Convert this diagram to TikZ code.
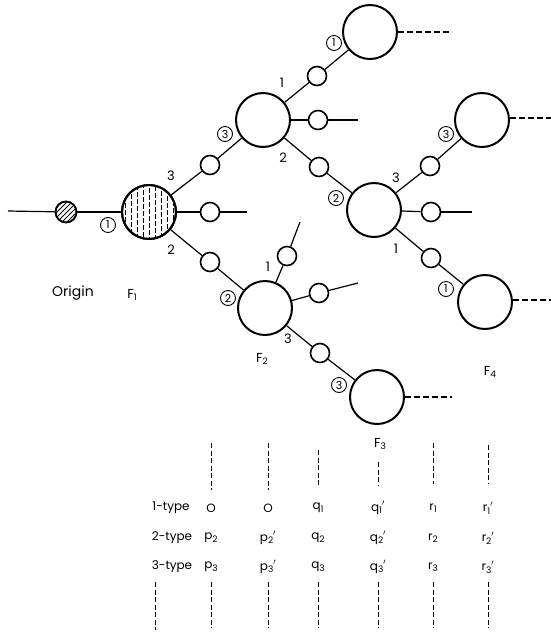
\documentclass[tikz,border=0pt]{standalone}
\usepackage{fontspec}
\setmainfont{Poppins}
\usetikzlibrary{calc}
\newcommand{\sbs}[1]{\raisebox{-2.5pt}{\fontsize{9}{9}\selectfont #1}}
\newcommand{\pr}{\raisebox{1pt}{$^\prime$}}
\begin{document}
\begin{tikzpicture}[x=1pt,y=-1pt,
  big/.style={circle,draw,line width=2pt,minimum size=54pt,inner sep=0pt},
  small/.style={circle,draw,line width=1.6pt,minimum size=19pt,inner sep=0pt},
  edge/.style={line width=1.2pt},
  cnum/.style={circle,draw,line width=0.9pt,inner sep=0pt,minimum size=15pt,font=\fontsize{11}{11}\selectfont},
  lab/.style={font=\fontsize{13}{13}\selectfont,inner sep=0pt},
  tlab/.style={font=\fontsize{12}{12}\selectfont,inner sep=0pt},
  dline/.style={line width=1.3pt,dash pattern=on 6pt off 3pt},
  vline/.style={line width=1pt,dash pattern=on 5pt off 2.5pt}]
\useasboundingbox (0,0) rectangle (551,633);
% origin
\coordinate (o0) at (8,211);
\node[small,minimum size=21pt] (org) at (66,212) {};
\begin{scope}
\clip (66,212) circle (10pt);
\foreach \k in {-24,-19,...,24} \draw[line width=1pt] (66+\k-12,224) -- (66+\k+12,200);
\end{scope}
\node[small,minimum size=21pt] at (66,212) {};
% main big circles
\node[big] (F1) at (149,212) {};
\begin{scope}
\clip (149,212) circle (27pt);
\foreach \k [count=\i] in {-24,-18,...,24}
  \draw[line width=1pt,dash pattern=on 5pt off 2pt,dash phase=\i*2pt] (149+\k,184) -- (149+\k,240);
\end{scope}
\node[big] at (149,212) {};
\node[big] (A) at (263,120) {};
\node[big] (B) at (370,32) {};
\node[big] (C) at (374,210) {};
\node[big] (D) at (482,120) {};
\node[big] (E) at (485,302) {};
\node[big] (F2) at (265,308) {};
\node[big] (F3) at (377,397) {};
% small circles
\node[small] (s1) at (210,165) {};
\node[small] (s2) at (210,212) {};
\node[small] (s3) at (210,262) {};
\node[small] (s4) at (317,76) {};
\node[small] (s5) at (318,120) {};
\node[small] (s6) at (319,167) {};
\node[small] (s7) at (430,166) {};
\node[small] (s8) at (431,212) {};
\node[small] (s9) at (431,258) {};
\node[small] (s10) at (287,256) {};
\node[small] (s11) at (319,293) {};
\node[small] (s12) at (320,353) {};
% free ends
\coordinate (e2) at (247,212);
\coordinate (e5) at (358,120);
\coordinate (e8) at (472,212);
\coordinate (e10) at (300,222);
\coordinate (e11) at (358,283);
\coordinate (dB) at (452,32);
\coordinate (dD) at (551,118);
\coordinate (dE) at (551,300);
\coordinate (dF3) at (452,397);
% connectors
\draw[edge] (o0) -- (org);
\draw[edge] (org) -- (F1);
\draw[edge] (F1) -- (s1); \draw[edge] (s1) -- (A);
\draw[edge] (F1) -- (s2); \draw[edge] (s2) -- (e2);
\draw[edge] (F1) -- (s3); \draw[edge] (s3) -- (F2);
\draw[edge] (A) -- (s4); \draw[edge] (s4) -- (B);
\draw[edge] (A) -- (s5); \draw[edge] (s5) -- (e5);
\draw[edge] (A) -- (s6); \draw[edge] (s6) -- (C);
\draw[edge] (C) -- (s7); \draw[edge] (s7) -- (D);
\draw[edge] (C) -- (s8); \draw[edge] (s8) -- (e8);
\draw[edge] (C) -- (s9); \draw[edge] (s9) -- (E);
\draw[edge] (F2) -- (s10); \draw[edge] (s10) -- (e10);
\draw[edge] (F2) -- (s11); \draw[edge] (s11) -- (e11);
\draw[edge] (F2) -- (s12); \draw[edge] (s12) -- (F3);
\draw[dline] (B.east) -- (dB);
\draw[dline] ($(D.east)+(0,-2)$) -- (dD);
\draw[dline] ($(E.east)+(0,-2)$) -- (dE);
\draw[dline] (F3.east) -- (dF3);
% circled numbers
\node[cnum] (c1) at (108,225) {1};
\node[cnum] (c2) at (225,134) {3};
\node[cnum] (c3) at (334,43) {1};
\node[cnum] (c4) at (336,198) {2};
\node[cnum] (c5) at (446,134) {3};
\node[cnum] (c6) at (446,289) {1};
\node[cnum] (c7) at (228,298) {2};
\node[cnum] (c8) at (339,385) {3};
% plain labels
\node[lab] (n1) at (171,176) {3};
\node[lab] (n2) at (171,250) {2};
\node[lab] (n3) at (282,83) {1};
\node[lab] (n4) at (283,158) {2};
\node[lab] (n5) at (396,178) {3};
\node[lab] (n6) at (396,249) {1};
\node[lab] (n7) at (268,267) {1};
\node[lab] (n8) at (288,339) {3};
\node[lab,font=\fontsize{14}{14}\selectfont] (tOrigin) at (73,293) {Origin};
\node[lab] (tF1) at (132,295) {F\sbs{1}};
\node[lab] (tF2) at (262,359) {F\sbs{2}};
\node[lab] (tF3) at (380,444) {F\sbs{3}};
\node[lab] (tF4) at (490,372) {F\sbs{4}};
% table
\node[tlab] (r1) at (171,508) {1-type};
\node[tlab] (r2) at (172,538) {2-type};
\node[tlab] (r3) at (172,567) {3-type};
\foreach \x/\a/\b/\c [count=\i] in {
  211/O/p\sbs{2}/p\sbs{3},
  268/O/p\sbs{2}\pr/p\sbs{3}\pr,
  318/q\sbs{1}/q\sbs{2}/q\sbs{3},
  378/q\sbs{1}\pr/q\sbs{2}\pr/q\sbs{3}\pr,
  433/r\sbs{1}/r\sbs{2}/r\sbs{3},
  488/r\sbs{1}\pr/r\sbs{2}\pr/r\sbs{3}\pr} {
  \node[tlab] (ta\i) at (\x,508) {\a};
  \node[tlab] (tb\i) at (\x,538) {\b};
  \node[tlab] (tc\i) at (\x,567) {\c};
  \coordinate (bt\i) at (\x,582);
  \coordinate (bb\i) at (\x,628);
  \draw[vline] (bt\i) -- (bb\i);
}
\foreach \x/\ya/\yb [count=\i] in {211/443/490,268/443/490,318/450/486,378/462/486,433/443/484,488/445/484} {
  \coordinate (ut\i) at (\x,\ya);
  \coordinate (ub\i) at (\x,\yb);
  \draw[vline] (ut\i) -- (ub\i);
}
\coordinate (lt) at (155,582);
\coordinate (lb) at (155,630);
\draw[vline] (lt) -- (lb);
\end{tikzpicture}
\end{document}
